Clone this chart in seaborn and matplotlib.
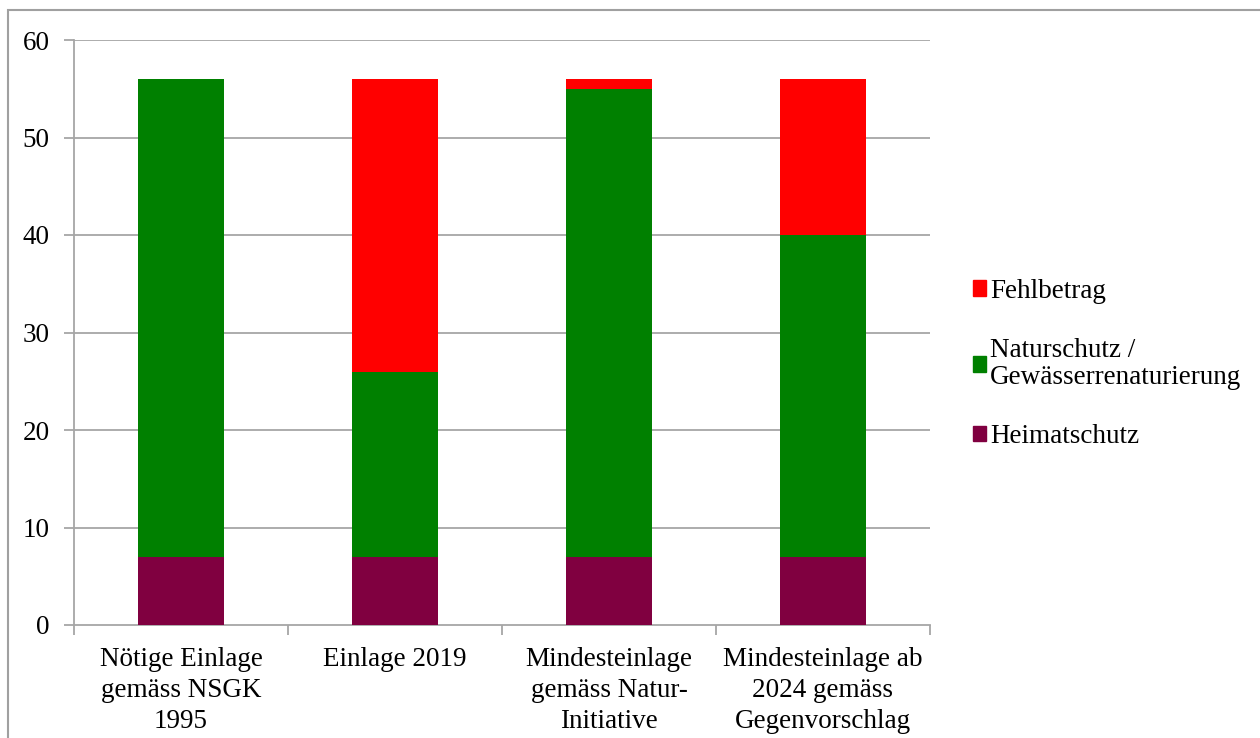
import matplotlib
matplotlib.use("Agg")
import matplotlib.pyplot as plt
import matplotlib.patches as mpatches
import seaborn as sns
import pandas as pd
import numpy as np

categories = ["Nötige Einlage\ngemäss NSGK\n1995", "Einlage 2019",
              "Mindesteinlage\ngemäss Natur-\nInitiative", "Mindesteinlage ab\n2024 gemäss\nGegenvorschlag"]
heimatschutz = [7, 7, 7, 7]
naturschutz = [49, 19, 48, 33]
fehlbetrag = [0, 30, 1, 16]
series_labels = ["Heimatschutz", "Naturschutz /\nGewässerrenaturierung", "Fehlbetrag"]
colors = ["#800040", "#008000", "#FF0000"]

sns.set_theme(style="white")
plt.rcParams['font.family'] = ['Liberation Serif', 'DejaVu Serif']
plt.rcParams['text.color'] = 'black'

df = pd.DataFrame({"cat": categories, "h": heimatschutz, "n": naturschutz, "f": fehlbetrag})
df["c1"] = df["h"]
df["c2"] = df["h"] + df["n"]
df["c3"] = df["c2"] + df["f"]

fig = plt.figure(figsize=(12.6, 7.38), dpi=100)
ax = fig.add_axes([74/1260, 1-625/738, (930-74)/1260, (625-40)/738])

grid_c = "#A6A6A6"
for y in range(10, 61, 10):
    ax.axhline(y, color=grid_c, lw=1.3, zorder=0)

fs = 19.5
sns.barplot(data=df, x="cat", y="c3", color=colors[2], width=0.4, ax=ax, saturation=1, zorder=2, linewidth=0)
sns.barplot(data=df, x="cat", y="c2", color=colors[1], width=0.4, ax=ax, saturation=1, zorder=3, linewidth=0)
sns.barplot(data=df, x="cat", y="c1", color=colors[0], width=0.4, ax=ax, saturation=1, zorder=4, linewidth=0)

ax.set_xlim(-0.5, 3.5)
ax.set_ylim(0, 60)
ax.set_yticks(range(0, 61, 10))
ax.set_xlabel("")
ax.set_ylabel("")
for s in ["top", "right"]:
    ax.spines[s].set_visible(False)
for s in ["left", "bottom"]:
    ax.spines[s].set_color(grid_c)
    ax.spines[s].set_linewidth(1.3)

ax.tick_params(axis="y", which="major", left=True, length=7, width=1.3, color=grid_c,
               labelsize=fs, pad=10.5, labelcolor="black")
ax.set_xticks(range(4))
ax.set_xticklabels(categories, fontsize=fs, linespacing=1.3)
ax.tick_params(axis="x", which="major", bottom=False, labelsize=fs, pad=10, labelcolor="black")
ax.set_xticks([0.5, 1.5, 2.5, 3.5, -0.5], minor=True)
ax.tick_params(axis="x", which="minor", bottom=True, length=7, width=1.3, color=grid_c)

handles = [mpatches.Patch(color=colors[2], label=series_labels[2]),
           mpatches.Patch(color=colors[1], label=series_labels[1]),
           mpatches.Patch(color=colors[0], label=series_labels[0])]
leg = fig.legend(handles=handles, loc="center left", bbox_to_anchor=(959/1260, 1-364/738),
                 frameon=False, prop={"size": fs}, handlelength=0.5, handleheight=0.5,
                 handletextpad=0.15, labelspacing=1.25, borderpad=0)
for t in leg.get_texts():
    t.set_linespacing(1.15)
    t.set_color("black")

border = mpatches.Rectangle((8/1260, -0.1), 1.2, 1-10/738+0.1, transform=fig.transFigure,
                            fill=False, edgecolor="#A0A0A0", lw=1.5)
fig.patches.append(border)

fig.savefig("out.png", dpi=100)
